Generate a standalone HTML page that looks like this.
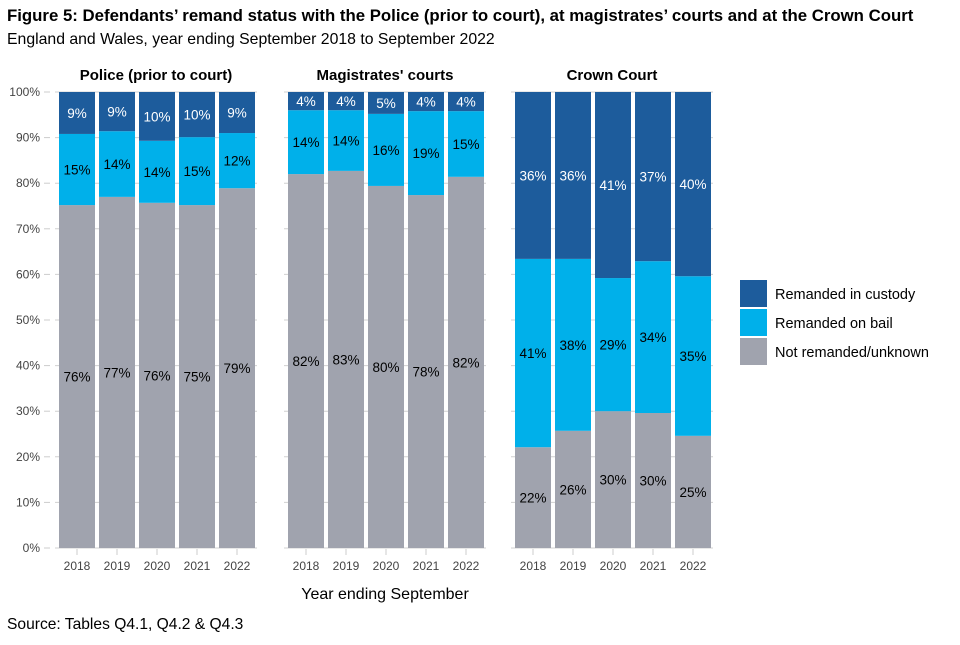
<!DOCTYPE html>
<html><head><meta charset="utf-8"><style>
body{margin:0;background:#fff;font-family:"Liberation Sans",Arial,sans-serif}
svg text{font-family:"Liberation Sans",Arial,sans-serif}
</style></head><body>
<svg id="c" width="960" height="640" xmlns="http://www.w3.org/2000/svg">
<text x="7" y="21" font-size="16.8" font-weight="bold" fill="#000">Figure 5: Defendants’ remand status with the Police (prior to court), at magistrates’ courts and at the Crown Court</text>
<text x="7" y="44" font-size="15.8" fill="#000">England and Wales, year ending September 2018 to September 2022</text>
<text x="385" y="599" font-size="16" text-anchor="middle" fill="#000">Year ending September</text>
<text x="7" y="629" font-size="15.6" fill="#000">Source: Tables Q4.1, Q4.2 &amp; Q4.3</text>
<g id="plots"></g>
<g>
<rect x="740" y="280" width="27" height="27" fill="#1d5c9c"/>
<text x="775" y="299" font-size="14.5">Remanded in custody</text>
<rect x="740" y="309" width="27" height="27" fill="#00b0ea"/>
<text x="775" y="328" font-size="14.5">Remanded on bail</text>
<rect x="740" y="338" width="27" height="27" fill="#a0a3ae"/>
<text x="775" y="357" font-size="14.5">Not remanded/unknown</text>
</g>
</svg>
<script>
const years=["2018","2019","2020","2021","2022"];
const panels=["Police (prior to court)","Magistrates' courts","Crown Court"];
const notRemanded=[[75.2,77.0,75.7,75.2,78.9],[82.0,82.7,79.4,77.4,81.4],[22.1,25.7,30.0,29.6,24.6]];
const bail=[[15.6,14.4,13.6,14.9,12.1],[14.0,13.3,15.8,18.4,14.4],[41.3,37.7,29.2,33.3,35.0]];
const custody=[[9.2,8.6,10.7,9.9,9.0],[4.0,4.0,4.8,4.2,4.2],[36.6,36.6,40.8,37.1,40.4]];
const notRemandedLabels=[["76%","77%","76%","75%","79%"],["82%","83%","80%","78%","82%"],["22%","26%","30%","30%","25%"]];
const bailLabels=[["15%","14%","14%","15%","12%"],["14%","14%","16%","19%","15%"],["41%","38%","29%","34%","35%"]];
const custodyLabels=[["9%","9%","10%","10%","9%"],["4%","4%","5%","4%","4%"],["36%","36%","41%","37%","40%"]];
const yTicks=[0,10,20,30,40,50,60,70,80,90,100];

const NS="http://www.w3.org/2000/svg";
const g=document.getElementById("plots");
const y0=548,y1=92;
const y=v=>y0-(y0-y1)*v/100;
const panelX=[55,284,511],panelW=202,step=40,bw=36;
function mk(t,a,p){const e=document.createElementNS(NS,t);for(const k in a)e.setAttribute(k,a[k]);(p||g).appendChild(e);return e;}
yTicks.forEach(t=>{
  const tl=mk("text",{x:40,y:y(t)+4,"font-size":12,"text-anchor":"end",fill:"#444"});tl.textContent=t+"%";
  
  
  const tk=mk("line",{x1:44,x2:50,y1:y(t),y2:y(t),stroke:"#ccc"});
  
  
});
panels.forEach((p,pi)=>{
  const px=panelX[pi];
  const h=mk("text",{x:px+panelW/2,y:80,"font-size":15,"font-weight":"bold","text-anchor":"middle"});h.textContent=p;
  
  
  yTicks.forEach(t=>{
    const gl=mk("line",{x1:px,x2:px+panelW,y1:y(t),y2:y(t),stroke:"#d0d0d0","stroke-width":1});
    
    
  });
  years.forEach((yr,i)=>{
    const bx=px+4+i*step;
    const segs=[[notRemanded[pi][i],"#a0a3ae","#000",notRemandedLabels[pi][i],"not-remanded"],[bail[pi][i],"#00b0ea","#000",bailLabels[pi][i],"bail"],[custody[pi][i],"#1d5c9c","#fff",custodyLabels[pi][i],"custody"]];
    let base=0;
    segs.forEach(s=>{
      const top=base+s[0];
      const r=mk("rect",{x:bx,y:y(top),width:bw,height:y(base)-y(top),fill:s[1]});
      
      
      const l=mk("text",{x:bx+bw/2,y:(y(base)+y(top))/2+5,"font-size":13.5,"text-anchor":"middle",fill:s[2]});l.textContent=s[3];
      
      
      base=top;
    });
    const xl=mk("text",{x:bx+bw/2,y:570,"font-size":12,"text-anchor":"middle",fill:"#444"});xl.textContent=yr;
    
    
    const xt=mk("line",{x1:bx+bw/2,x2:bx+bw/2,y1:549,y2:555,stroke:"#ccc"});
    
    
  });
});
</script>
</body></html>
